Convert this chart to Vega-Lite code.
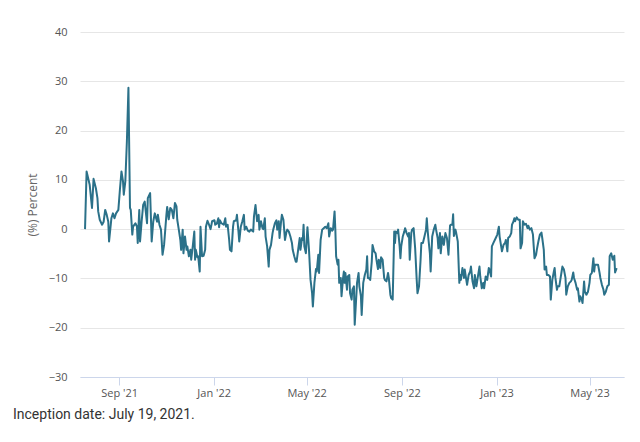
{
  "$schema": "https://vega.github.io/schema/vega-lite/v6.json",
  "width": 544,
  "height": 345,
  "autosize": {"type": "none"},
  "padding": {"left": 80, "top": 32, "right": 16, "bottom": 65},
  "background": "#ffffff",
  "config": {
    "view": {"stroke": null},
    "font": "Open Sans"
  },
  "title": {
    "text": "Inception date: July 19, 2021.",
    "orient": "bottom",
    "anchor": "start",
    "frame": "group",
    "dx": -67,
    "offset": 10,
    "fontSize": 14,
    "fontWeight": "normal",
    "color": "#333333",
    "font": "Roboto"
  },
  "data": {
    "values": [
      {"date": "2021-07-19", "value": 0},
      {"date": "2021-07-21", "value": 11.7},
      {"date": "2021-07-25", "value": 9},
      {"date": "2021-07-28", "value": 4.3},
      {"date": "2021-07-30", "value": 10.2},
      {"date": "2021-08-02", "value": 8.3},
      {"date": "2021-08-04", "value": 6.3},
      {"date": "2021-08-05", "value": 3.6},
      {"date": "2021-08-07", "value": 1.9},
      {"date": "2021-08-10", "value": 0.9},
      {"date": "2021-08-12", "value": 1.5},
      {"date": "2021-08-14", "value": 3.9},
      {"date": "2021-08-16", "value": 2.9},
      {"date": "2021-08-18", "value": 1.5},
      {"date": "2021-08-19", "value": -2.5},
      {"date": "2021-08-22", "value": 2.2},
      {"date": "2021-08-24", "value": 3.2},
      {"date": "2021-08-26", "value": 2.2},
      {"date": "2021-08-28", "value": 3.2},
      {"date": "2021-08-31", "value": 3.9},
      {"date": "2021-09-02", "value": 8},
      {"date": "2021-09-04", "value": 11.7},
      {"date": "2021-09-06", "value": 9.7},
      {"date": "2021-09-07", "value": 7},
      {"date": "2021-09-09", "value": 9.7},
      {"date": "2021-09-11", "value": 17.8},
      {"date": "2021-09-13", "value": 28.7},
      {"date": "2021-09-15", "value": 4.3},
      {"date": "2021-09-16", "value": 3.9},
      {"date": "2021-09-18", "value": -1.1},
      {"date": "2021-09-19", "value": 0.5},
      {"date": "2021-09-22", "value": 1.2},
      {"date": "2021-09-24", "value": 0.5},
      {"date": "2021-09-25", "value": -2.8},
      {"date": "2021-09-27", "value": 3.9},
      {"date": "2021-09-28", "value": -2.5},
      {"date": "2021-09-30", "value": 1.5},
      {"date": "2021-10-02", "value": 4.9},
      {"date": "2021-10-04", "value": 5.6},
      {"date": "2021-10-07", "value": 1.2},
      {"date": "2021-10-08", "value": 6.3},
      {"date": "2021-10-11", "value": 7.3},
      {"date": "2021-10-13", "value": -2.5},
      {"date": "2021-10-15", "value": 1.5},
      {"date": "2021-10-17", "value": 3.2},
      {"date": "2021-10-20", "value": 1.5},
      {"date": "2021-10-21", "value": 2.9},
      {"date": "2021-10-23", "value": 0.9},
      {"date": "2021-10-25", "value": -0.1},
      {"date": "2021-10-27", "value": -5.2},
      {"date": "2021-10-29", "value": -3.2},
      {"date": "2021-11-01", "value": 2.9},
      {"date": "2021-11-02", "value": 4.5},
      {"date": "2021-11-04", "value": 2},
      {"date": "2021-11-06", "value": 4.3},
      {"date": "2021-11-08", "value": 3.9},
      {"date": "2021-11-10", "value": 2.2},
      {"date": "2021-11-12", "value": 5.3},
      {"date": "2021-11-14", "value": 4.6},
      {"date": "2021-11-15", "value": 1.9},
      {"date": "2021-11-17", "value": -0.1},
      {"date": "2021-11-19", "value": -2.2},
      {"date": "2021-11-20", "value": -4.2},
      {"date": "2021-11-22", "value": -0.1},
      {"date": "2021-11-23", "value": -4.9},
      {"date": "2021-11-25", "value": -1.5},
      {"date": "2021-11-27", "value": -4.2},
      {"date": "2021-11-28", "value": -3.5},
      {"date": "2021-11-30", "value": -5.5},
      {"date": "2021-12-02", "value": -4.2},
      {"date": "2021-12-03", "value": -6.2},
      {"date": "2021-12-05", "value": -3.5},
      {"date": "2021-12-07", "value": -0.5},
      {"date": "2021-12-08", "value": -6.2},
      {"date": "2021-12-09", "value": -4.2},
      {"date": "2021-12-11", "value": -5.7},
      {"date": "2021-12-12", "value": -5.5},
      {"date": "2021-12-14", "value": -8.6},
      {"date": "2021-12-15", "value": 0.5},
      {"date": "2021-12-17", "value": -5.5},
      {"date": "2021-12-19", "value": -5.4},
      {"date": "2021-12-21", "value": -4.2},
      {"date": "2021-12-22", "value": 0.5},
      {"date": "2021-12-24", "value": 1.7},
      {"date": "2021-12-26", "value": 0.9},
      {"date": "2021-12-28", "value": 0},
      {"date": "2021-12-30", "value": 1.6},
      {"date": "2022-01-02", "value": 1.8},
      {"date": "2022-01-03", "value": 0.9},
      {"date": "2022-01-05", "value": 1.1},
      {"date": "2022-01-07", "value": 2.2},
      {"date": "2022-01-08", "value": 0.4},
      {"date": "2022-01-09", "value": 1.8},
      {"date": "2022-01-11", "value": 1.2},
      {"date": "2022-01-14", "value": 0.9},
      {"date": "2022-01-16", "value": 2.2},
      {"date": "2022-01-17", "value": 0.5},
      {"date": "2022-01-19", "value": 0.9},
      {"date": "2022-01-21", "value": -2.2},
      {"date": "2022-01-22", "value": -4.2},
      {"date": "2022-01-24", "value": -4.5},
      {"date": "2022-01-26", "value": 0.5},
      {"date": "2022-01-27", "value": 1.6},
      {"date": "2022-01-30", "value": 1.8},
      {"date": "2022-01-31", "value": 2.9},
      {"date": "2022-02-02", "value": -0.5},
      {"date": "2022-02-03", "value": -2.5},
      {"date": "2022-02-05", "value": 0.5},
      {"date": "2022-02-07", "value": 1.6},
      {"date": "2022-02-09", "value": 2.9},
      {"date": "2022-02-10", "value": -0.1},
      {"date": "2022-02-12", "value": 0.5},
      {"date": "2022-02-14", "value": -0.3},
      {"date": "2022-02-16", "value": -0.5},
      {"date": "2022-02-18", "value": -0.1},
      {"date": "2022-02-21", "value": -0.5},
      {"date": "2022-02-22", "value": 2.6},
      {"date": "2022-02-24", "value": 4.9},
      {"date": "2022-02-26", "value": 1.6},
      {"date": "2022-02-28", "value": 2.9},
      {"date": "2022-03-01", "value": -0.1},
      {"date": "2022-03-03", "value": 1.6},
      {"date": "2022-03-05", "value": 0.2},
      {"date": "2022-03-06", "value": 0},
      {"date": "2022-03-08", "value": 2.2},
      {"date": "2022-03-09", "value": -1.5},
      {"date": "2022-03-11", "value": -3.5},
      {"date": "2022-03-13", "value": -7.6},
      {"date": "2022-03-14", "value": -4.2},
      {"date": "2022-03-16", "value": -3.2},
      {"date": "2022-03-18", "value": -0.8},
      {"date": "2022-03-19", "value": 0},
      {"date": "2022-03-21", "value": 1.2},
      {"date": "2022-03-23", "value": 1.8},
      {"date": "2022-03-24", "value": -0.1},
      {"date": "2022-03-26", "value": 1.6},
      {"date": "2022-03-27", "value": -1.8},
      {"date": "2022-03-29", "value": 1.6},
      {"date": "2022-03-30", "value": 2.9},
      {"date": "2022-04-01", "value": 1.9},
      {"date": "2022-04-03", "value": -2.2},
      {"date": "2022-04-05", "value": -0.5},
      {"date": "2022-04-06", "value": -0.1},
      {"date": "2022-04-08", "value": -0.5},
      {"date": "2022-04-10", "value": -1.5},
      {"date": "2022-04-12", "value": -2.8},
      {"date": "2022-04-13", "value": -4.2},
      {"date": "2022-04-15", "value": -5.5},
      {"date": "2022-04-17", "value": -6.6},
      {"date": "2022-04-18", "value": -6.6},
      {"date": "2022-04-20", "value": -4.2},
      {"date": "2022-04-22", "value": -1.8},
      {"date": "2022-04-23", "value": -4.2},
      {"date": "2022-04-25", "value": -1.8},
      {"date": "2022-04-26", "value": -2.2},
      {"date": "2022-04-27", "value": 0.9},
      {"date": "2022-04-28", "value": -3.5},
      {"date": "2022-04-30", "value": -4.9},
      {"date": "2022-05-02", "value": 0.4},
      {"date": "2022-05-04", "value": -4.2},
      {"date": "2022-05-06", "value": -10.3},
      {"date": "2022-05-08", "value": -13},
      {"date": "2022-05-09", "value": -15.7},
      {"date": "2022-05-11", "value": -10.9},
      {"date": "2022-05-13", "value": -8.1},
      {"date": "2022-05-14", "value": -8.6},
      {"date": "2022-05-16", "value": -5.2},
      {"date": "2022-05-17", "value": -8.9},
      {"date": "2022-05-19", "value": -2.2},
      {"date": "2022-05-21", "value": -0.1},
      {"date": "2022-05-23", "value": 0.2},
      {"date": "2022-05-25", "value": 0.5},
      {"date": "2022-05-27", "value": 0.2},
      {"date": "2022-05-29", "value": 1.2},
      {"date": "2022-05-30", "value": -1.5},
      {"date": "2022-06-01", "value": 0.2},
      {"date": "2022-06-03", "value": -0.3},
      {"date": "2022-06-04", "value": -0.1},
      {"date": "2022-06-06", "value": 3.6},
      {"date": "2022-06-07", "value": -0.1},
      {"date": "2022-06-08", "value": -5.5},
      {"date": "2022-06-10", "value": -7.2},
      {"date": "2022-06-11", "value": -6.2},
      {"date": "2022-06-12", "value": -10.9},
      {"date": "2022-06-14", "value": -9.9},
      {"date": "2022-06-15", "value": -13.6},
      {"date": "2022-06-17", "value": -9.9},
      {"date": "2022-06-18", "value": -8.6},
      {"date": "2022-06-19", "value": -10.9},
      {"date": "2022-06-20", "value": -8.9},
      {"date": "2022-06-22", "value": -12.3},
      {"date": "2022-06-23", "value": -9.6},
      {"date": "2022-06-25", "value": -9.3},
      {"date": "2022-06-26", "value": -13},
      {"date": "2022-06-28", "value": -14.3},
      {"date": "2022-06-29", "value": -12.3},
      {"date": "2022-07-01", "value": -11.6},
      {"date": "2022-07-02", "value": -19.4},
      {"date": "2022-07-05", "value": -10.9},
      {"date": "2022-07-07", "value": -8.9},
      {"date": "2022-07-08", "value": -11.6},
      {"date": "2022-07-10", "value": -13.6},
      {"date": "2022-07-11", "value": -17.4},
      {"date": "2022-07-13", "value": -10.9},
      {"date": "2022-07-15", "value": -9.3},
      {"date": "2022-07-17", "value": -8.2},
      {"date": "2022-07-18", "value": -5.5},
      {"date": "2022-07-19", "value": -9.9},
      {"date": "2022-07-20", "value": -9.9},
      {"date": "2022-07-22", "value": -10.3},
      {"date": "2022-07-24", "value": -6.6},
      {"date": "2022-07-25", "value": -3.2},
      {"date": "2022-07-27", "value": -4.5},
      {"date": "2022-07-29", "value": -4.9},
      {"date": "2022-07-30", "value": -6.2},
      {"date": "2022-08-01", "value": -8.1},
      {"date": "2022-08-02", "value": -6.2},
      {"date": "2022-08-04", "value": -7.9},
      {"date": "2022-08-05", "value": -5.7},
      {"date": "2022-08-07", "value": -6.2},
      {"date": "2022-08-09", "value": -9.9},
      {"date": "2022-08-10", "value": -10.3},
      {"date": "2022-08-12", "value": -10.6},
      {"date": "2022-08-14", "value": -8.9},
      {"date": "2022-08-15", "value": -9.9},
      {"date": "2022-08-17", "value": -13.3},
      {"date": "2022-08-18", "value": -14},
      {"date": "2022-08-20", "value": -14.3},
      {"date": "2022-08-22", "value": -0.5},
      {"date": "2022-08-23", "value": -2.8},
      {"date": "2022-08-24", "value": -0.5},
      {"date": "2022-08-26", "value": -0.8},
      {"date": "2022-08-27", "value": -0.1},
      {"date": "2022-08-29", "value": -3.5},
      {"date": "2022-08-30", "value": -5.9},
      {"date": "2022-08-31", "value": -3.5},
      {"date": "2022-09-02", "value": -1.5},
      {"date": "2022-09-04", "value": -0.5},
      {"date": "2022-09-05", "value": 0.2},
      {"date": "2022-09-07", "value": -0.8},
      {"date": "2022-09-09", "value": -1.5},
      {"date": "2022-09-10", "value": -0.8},
      {"date": "2022-09-11", "value": -6.2},
      {"date": "2022-09-13", "value": -0.8},
      {"date": "2022-09-14", "value": -0.1},
      {"date": "2022-09-16", "value": 0.2},
      {"date": "2022-09-18", "value": -3.9},
      {"date": "2022-09-20", "value": -10.3},
      {"date": "2022-09-21", "value": -13},
      {"date": "2022-09-23", "value": -11.6},
      {"date": "2022-09-25", "value": -6.2},
      {"date": "2022-09-26", "value": -2.8},
      {"date": "2022-09-28", "value": -2.8},
      {"date": "2022-09-30", "value": -1.5},
      {"date": "2022-10-02", "value": -0.1},
      {"date": "2022-10-03", "value": 2.2},
      {"date": "2022-10-04", "value": -0.1},
      {"date": "2022-10-05", "value": -1.8},
      {"date": "2022-10-07", "value": -4.9},
      {"date": "2022-10-08", "value": -8.6},
      {"date": "2022-10-10", "value": -1.5},
      {"date": "2022-10-12", "value": -0.1},
      {"date": "2022-10-14", "value": 0.9},
      {"date": "2022-10-15", "value": -0.1},
      {"date": "2022-10-17", "value": -1.8},
      {"date": "2022-10-18", "value": -3.9},
      {"date": "2022-10-20", "value": -0.8},
      {"date": "2022-10-21", "value": -4.9},
      {"date": "2022-10-23", "value": -1.5},
      {"date": "2022-10-25", "value": -3.2},
      {"date": "2022-10-27", "value": -0.8},
      {"date": "2022-10-29", "value": -1.8},
      {"date": "2022-10-31", "value": -5.2},
      {"date": "2022-11-02", "value": 0.7},
      {"date": "2022-11-03", "value": 0.9},
      {"date": "2022-11-05", "value": 0.9},
      {"date": "2022-11-06", "value": 3},
      {"date": "2022-11-07", "value": -1.4},
      {"date": "2022-11-09", "value": -0.1},
      {"date": "2022-11-10", "value": -0.8},
      {"date": "2022-11-12", "value": -2.5},
      {"date": "2022-11-14", "value": -10.9},
      {"date": "2022-11-15", "value": -9.3},
      {"date": "2022-11-16", "value": -10.3},
      {"date": "2022-11-18", "value": -7.9},
      {"date": "2022-11-20", "value": -9.9},
      {"date": "2022-11-21", "value": -8.2},
      {"date": "2022-11-22", "value": -9.3},
      {"date": "2022-11-24", "value": -11.3},
      {"date": "2022-11-26", "value": -9.3},
      {"date": "2022-11-28", "value": -8.6},
      {"date": "2022-11-29", "value": -7.6},
      {"date": "2022-12-01", "value": -10.6},
      {"date": "2022-12-03", "value": -12},
      {"date": "2022-12-04", "value": -9.3},
      {"date": "2022-12-06", "value": -11.6},
      {"date": "2022-12-08", "value": -9.6},
      {"date": "2022-12-10", "value": -7.6},
      {"date": "2022-12-11", "value": -9.6},
      {"date": "2022-12-13", "value": -12},
      {"date": "2022-12-15", "value": -10.9},
      {"date": "2022-12-16", "value": -12},
      {"date": "2022-12-18", "value": -9.6},
      {"date": "2022-12-20", "value": -10.3},
      {"date": "2022-12-22", "value": -7.9},
      {"date": "2022-12-23", "value": -8.2},
      {"date": "2022-12-25", "value": -9.6},
      {"date": "2022-12-26", "value": -3.5},
      {"date": "2022-12-28", "value": -2.8},
      {"date": "2022-12-31", "value": -1.8},
      {"date": "2023-01-02", "value": -1.1},
      {"date": "2023-01-04", "value": 0.5},
      {"date": "2023-01-05", "value": -1.5},
      {"date": "2023-01-07", "value": -3.5},
      {"date": "2023-01-08", "value": -4.5},
      {"date": "2023-01-10", "value": -3.2},
      {"date": "2023-01-12", "value": -2.8},
      {"date": "2023-01-13", "value": -2.2},
      {"date": "2023-01-15", "value": -4.5},
      {"date": "2023-01-16", "value": -1.8},
      {"date": "2023-01-18", "value": -1.5},
      {"date": "2023-01-20", "value": -0.8},
      {"date": "2023-01-21", "value": 0.9},
      {"date": "2023-01-23", "value": 1.6},
      {"date": "2023-01-24", "value": 2.2},
      {"date": "2023-01-25", "value": 1.6},
      {"date": "2023-01-27", "value": 2.4},
      {"date": "2023-01-29", "value": 1.9},
      {"date": "2023-01-31", "value": 1.9},
      {"date": "2023-02-01", "value": -3.9},
      {"date": "2023-02-03", "value": -2.8},
      {"date": "2023-02-04", "value": 1.6},
      {"date": "2023-02-06", "value": 0.9},
      {"date": "2023-02-08", "value": 1.1},
      {"date": "2023-02-10", "value": 0.2},
      {"date": "2023-02-11", "value": 0.7},
      {"date": "2023-02-13", "value": -0.1},
      {"date": "2023-02-15", "value": 0.2},
      {"date": "2023-02-17", "value": -1.1},
      {"date": "2023-02-18", "value": -3.5},
      {"date": "2023-02-19", "value": -5.9},
      {"date": "2023-02-21", "value": -5.2},
      {"date": "2023-02-22", "value": -4.2},
      {"date": "2023-02-24", "value": -2.5},
      {"date": "2023-02-26", "value": -1.1},
      {"date": "2023-02-28", "value": -0.7},
      {"date": "2023-03-01", "value": -1.8},
      {"date": "2023-03-03", "value": -4.2},
      {"date": "2023-03-04", "value": -8.2},
      {"date": "2023-03-06", "value": -7.6},
      {"date": "2023-03-07", "value": -9.3},
      {"date": "2023-03-09", "value": -9.3},
      {"date": "2023-03-11", "value": -9.6},
      {"date": "2023-03-12", "value": -14.3},
      {"date": "2023-03-14", "value": -10.3},
      {"date": "2023-03-16", "value": -8.6},
      {"date": "2023-03-17", "value": -7.9},
      {"date": "2023-03-18", "value": -9.9},
      {"date": "2023-03-20", "value": -12.3},
      {"date": "2023-03-21", "value": -11.6},
      {"date": "2023-03-23", "value": -11.6},
      {"date": "2023-03-25", "value": -9.6},
      {"date": "2023-03-26", "value": -8.6},
      {"date": "2023-03-27", "value": -7.6},
      {"date": "2023-03-29", "value": -8.2},
      {"date": "2023-03-31", "value": -9.9},
      {"date": "2023-04-01", "value": -13.3},
      {"date": "2023-04-03", "value": -11.6},
      {"date": "2023-04-05", "value": -10.9},
      {"date": "2023-04-07", "value": -10.6},
      {"date": "2023-04-08", "value": -10.3},
      {"date": "2023-04-10", "value": -8.8},
      {"date": "2023-04-11", "value": -9.9},
      {"date": "2023-04-13", "value": -10.9},
      {"date": "2023-04-15", "value": -12.3},
      {"date": "2023-04-16", "value": -12},
      {"date": "2023-04-18", "value": -14.7},
      {"date": "2023-04-19", "value": -13.6},
      {"date": "2023-04-21", "value": -14.3},
      {"date": "2023-04-22", "value": -15},
      {"date": "2023-04-24", "value": -10.6},
      {"date": "2023-04-25", "value": -12.7},
      {"date": "2023-04-27", "value": -13.3},
      {"date": "2023-04-29", "value": -12.7},
      {"date": "2023-05-01", "value": -10.9},
      {"date": "2023-05-02", "value": -9.3},
      {"date": "2023-05-04", "value": -8.9},
      {"date": "2023-05-06", "value": -5.9},
      {"date": "2023-05-07", "value": -8.6},
      {"date": "2023-05-08", "value": -7.2},
      {"date": "2023-05-10", "value": -7.2},
      {"date": "2023-05-12", "value": -7.2},
      {"date": "2023-05-14", "value": -8.9},
      {"date": "2023-05-15", "value": -9.9},
      {"date": "2023-05-17", "value": -11.3},
      {"date": "2023-05-19", "value": -12.3},
      {"date": "2023-05-20", "value": -13.3},
      {"date": "2023-05-22", "value": -12.7},
      {"date": "2023-05-24", "value": -11.6},
      {"date": "2023-05-26", "value": -11.3},
      {"date": "2023-05-27", "value": -5.5},
      {"date": "2023-05-29", "value": -4.9},
      {"date": "2023-05-31", "value": -6.2},
      {"date": "2023-06-02", "value": -5.4},
      {"date": "2023-06-03", "value": -8.8},
      {"date": "2023-06-05", "value": -7.9}
    ]
  },
  "mark": {"type": "line", "color": "#2b7189", "strokeWidth": 2, "strokeJoin": "round"},
  "encoding": {
    "x": {
      "field": "date",
      "type": "temporal",
      "scale": {
        "type": "utc",
        "domain": [
          {"year": 2021, "month": 7, "date": 12, "hours": 12, "utc": true},
          {"year": 2023, "month": 6, "date": 14, "hours": 12, "utc": true}
        ]
      },
      "axis": {
        "title": null,
        "values": [
          {"year": 2021, "month": 9, "date": 1, "utc": true},
          {"year": 2022, "month": 1, "date": 1, "utc": true},
          {"year": 2022, "month": 5, "date": 1, "utc": true},
          {"year": 2022, "month": 9, "date": 1, "utc": true},
          {"year": 2023, "month": 1, "date": 1, "utc": true},
          {"year": 2023, "month": 5, "date": 1, "utc": true}
        ],
        "labelExpr": "utcFormat(datum.value, '%b \\'%y')",
        "grid": false,
        "domainColor": "#ccd6eb",
        "domainWidth": 1,
        "tickColor": "#ccd6eb",
        "tickSize": 8,
        "labelColor": "#555555",
        "labelFontSize": 11,
        "labelPadding": 2,
        "labelFont": "Open Sans"
      }
    },
    "y": {
      "field": "value",
      "type": "quantitative",
      "scale": {"domain": [-30, 40], "nice": false, "zero": false},
      "axis": {
        "title": "(%) Percent",
        "values": [-30, -20, -10, 0, 10, 20, 30, 40],
        "format": "d",
        "grid": true,
        "gridColor": "#e6e6e6",
        "gridWidth": 1,
        "domain": false,
        "ticks": false,
        "labelColor": "#555555",
        "labelFontSize": 11,
        "labelPadding": 13,
        "labelFont": "Open Sans",
        "titleColor": "#666666",
        "titleFontSize": 12,
        "titleFontWeight": "normal",
        "titleFont": "Open Sans",
        "titlePadding": 9
      }
    }
  }
}
